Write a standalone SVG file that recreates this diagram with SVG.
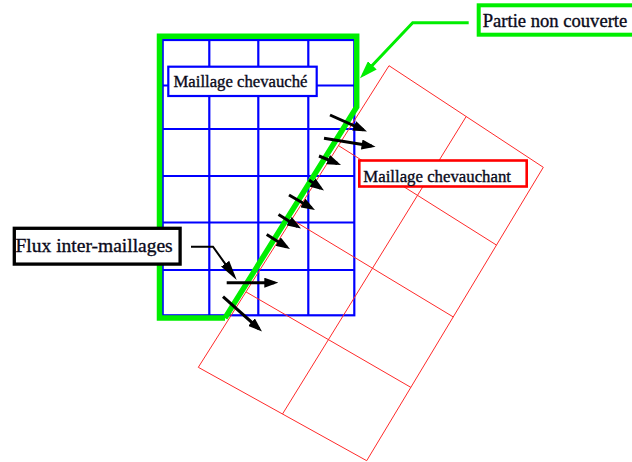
<svg xmlns="http://www.w3.org/2000/svg" width="632" height="462" viewBox="0 0 632 462">
  <style>
    .blue { stroke: #0000ff; stroke-width: 2.2; fill: none; }
    .red { stroke: #ff2a2a; stroke-width: 1; fill: none; }
    .green { stroke: #00ee00; fill: none; }
    .arrow { stroke: #000; stroke-width: 3; fill: none; marker-end: url(#ah); }
    text { font-family: 'Liberation Serif', 'Times New Roman', serif; fill: #0a0a1a; stroke: #0a0a1a; stroke-width: 0.35; }
  </style>
  <defs>
    <marker id="ah" markerUnits="userSpaceOnUse" markerWidth="14" markerHeight="10" refX="10" refY="5" orient="auto">
      <path d="M0,0 L14,5 L0,10 z" fill="#000"/>
    </marker>
    <marker id="ahLong" markerUnits="userSpaceOnUse" markerWidth="20" markerHeight="10" refX="16" refY="5" orient="auto">
      <path d="M0,0 L20,5 L0,10 z" fill="#000"/>
    </marker>
    <marker id="ahGreen" markerUnits="userSpaceOnUse" markerWidth="18" markerHeight="12" refX="13" refY="6" orient="auto">
      <path d="M0,0 L18,6 L0,12 z" fill="#00ee00"/>
    </marker>
  </defs>

  <g id="maillage-chevauche-grid">
    <rect class="blue" x="162.7" y="40" width="191.6" height="275.3"/>
    <path class="blue" d="M209.3,40 V315.3 M258.3,40 V315.3 M308.3,40 V315.3 M162.7,85.5 H354.3 M162.7,129 H354.3 M162.7,176 H354.3 M162.7,222.5 H354.3 M162.7,270 H354.3"/>
  </g>

  <g id="partie-non-couverte-zone">
    <path class="green" stroke-width="5.5" stroke-linejoin="miter" d="M225,318 L159.5,318 L159.5,36.3 L356.7,36.3 L356.7,107 L225,318"/>
  </g>

  <g id="maillage-chevauchant-grid">
    <polygon class="red" points="389,65.7 543.3,167.3 366.7,460.7 198.3,367.3"/>
    <path class="red" d="M466.2,116.5 L282.5,414 M338.5,145.6 L496.5,245.1 M291.7,219.5 L453.2,316.9 M246,291.9 L410.9,387.4"/>
  </g>

  <g id="connectors">
    <line class="arrow" x1="330" y1="115" x2="363.3" y2="129.9"/>
    <line class="arrow" x1="324" y1="138.3" x2="371.6" y2="146.1"/>
    <line class="arrow" x1="319" y1="156" x2="337.3" y2="163.5"/>
    <line class="arrow" x1="309" y1="180" x2="320.7" y2="188.2"/>
    <line class="arrow" x1="289" y1="195" x2="311.5" y2="208"/>
    <line class="arrow" x1="278.5" y1="214.5" x2="297.6" y2="226.4"/>
    <line class="arrow" x1="266.7" y1="234.5" x2="286.6" y2="246.9"/>
    <line class="arrow" x1="226.7" y1="282.7" x2="274.3" y2="282.7"/>
    <line class="arrow" x1="223" y1="296.7" x2="259" y2="328.8"/>
    <polyline fill="none" stroke="#000" stroke-width="2" marker-end="url(#ahLong)" points="191,246.7 213,246.7 234.4,276.7"/>
    <polyline fill="none" stroke="#00ee00" stroke-width="3" marker-end="url(#ahGreen)" points="468.7,22.7 412.7,22.7 363.4,74.7"/>
  </g>

  <g id="label-maillage-chevauche">
    <rect x="168.3" y="66.7" width="148.4" height="29.3" fill="#fff" stroke="#0000ff" stroke-width="2.2"/>
    <text x="173.5" y="87" font-size="16.7">Maillage chevauché</text>
  </g>

  <g id="label-maillage-chevauchant">
    <rect x="359.3" y="160.5" width="167.4" height="26" fill="#fff" stroke="#ff0000" stroke-width="2.6"/>
    <text x="363.3" y="181.5" font-size="16.8">Maillage chevauchant</text>
  </g>

  <g id="label-partie-non-couverte">
    <rect x="478.7" y="5.3" width="170" height="29.4" fill="#fff" stroke="#00ee00" stroke-width="4"/>
    <text x="482.7" y="26.7" font-size="18.6">Partie non couverte</text>
  </g>

  <g id="label-flux-inter-maillages">
    <rect x="14.3" y="228.3" width="165.8" height="35.8" fill="#fff" stroke="#000" stroke-width="3.3"/>
    <text x="15.5" y="252" font-size="19.5">Flux inter-maillages</text>
  </g>
</svg>
